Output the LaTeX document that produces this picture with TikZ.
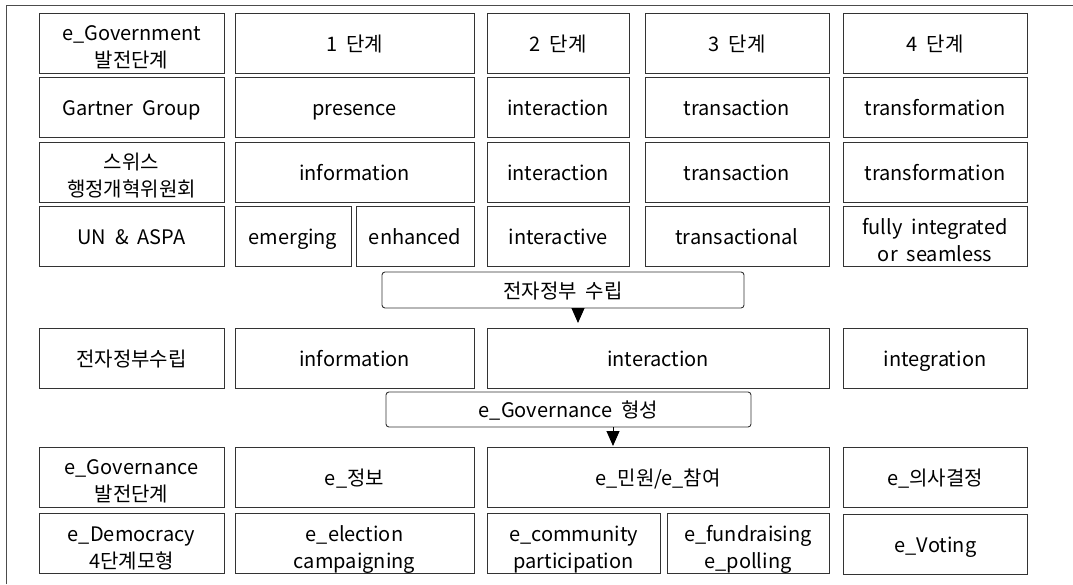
\documentclass[tikz,border=0pt]{standalone}
\usepackage{fontspec}
\setmainfont{Noto Sans CJK KR}
\usetikzlibrary{arrows.meta}

\begin{document}
\begin{tikzpicture}[x=1pt,y=-1pt]

      \useasboundingbox (0,0) rectangle (1073,584);
      \draw[black!70, line width=1pt] (6,584) -- (6,5) -- (1073,5);

      \begin{scope}[every node/.style={draw=black!80, line width=0.9pt, inner sep=0pt,
          minimum height=60pt, align=center, text height=18pt, text depth=2pt,
          font=\fontsize{20}{27}\selectfont},
          twoline/.style={text height=50pt, text depth=1pt}]
        % row 1
        \node[minimum width=185pt, twoline] (h0) at (131.5,43)  {e\_Government\\발전단계};
        \node[minimum width=239pt] (h1) at (354.5,43)  {1~ 단계};
        \node[minimum width=142pt] (h2) at (558,43)    {2~ 단계};
        \node[minimum width=184pt] (h3) at (737,43)    {3~ 단계};
        \node[minimum width=184pt] (h4) at (935,43)    {4~ 단계};
        % row 2
        \node[minimum width=185pt] (g0) at (131.5,107) {Gartner~ Group};
        \node[minimum width=239pt] (g1) at (354.5,107) {presence};
        \node[minimum width=142pt] (g2) at (558,107)   {interaction};
        \node[minimum width=184pt] (g3) at (737,107)   {transaction};
        \node[minimum width=184pt] (g4) at (935,107)   {transformation};
        % row 3
        \node[minimum width=185pt, twoline] (s0) at (131.5,172) {스위스\\행정개혁위원회};
        \node[minimum width=239pt] (s1) at (354.5,172) {information};
        \node[minimum width=142pt] (s2) at (558,172)   {interaction};
        \node[minimum width=184pt] (s3) at (737,172)   {transaction};
        \node[minimum width=184pt] (s4) at (935,172)   {transformation};
        % row 4
        \node[minimum width=185pt] (u0) at (131.5,236.5) {UN~ \&~ ASPA};
        \node[minimum width=116pt] (u1) at (293,236.5)   {emerging};
        \node[minimum width=118pt] (u5) at (415,236.5)   {enhanced};
        \node[minimum width=142pt] (u2) at (558,236.5)   {interactive};
        \node[minimum width=184pt] (u3) at (737,236.5)   {transactional};
        \node[minimum width=184pt, twoline] (u4) at (935,236.5) {fully~ integrated\\or~ seamless};
        % row 5
        \node[minimum width=185pt] (k0) at (131.5,358) {전자정부수립};
        \node[minimum width=239pt] (k1) at (354.5,358) {information};
        \node[minimum width=342pt] (k2) at (658,358)   {interaction};
        \node[minimum width=184pt] (k4) at (935,358)   {integration};
        % row 6
        \node[minimum width=185pt, twoline] (n0) at (131.5,477) {e\_Governance\\발전단계};
        \node[minimum width=239pt] (n1) at (354.5,477) {e\_정보};
        \node[minimum width=342pt] (n2) at (658,477)   {e\_민원/e\_참여};
        \node[minimum width=184pt] (n4) at (935,477)   {e\_의사결정};
        % row 7
        \node[minimum width=185pt, twoline] (d0) at (131.5,543.5) {e\_Democracy\\4단계모형};
        \node[minimum width=239pt, twoline] (d1) at (354.5,543.5) {e\_election\\campaigning};
        \node[minimum width=173pt, twoline] (d2) at (573.5,543.5) {e\_community\\participation};
        \node[minimum width=162pt, twoline] (d3) at (748,543.5)   {e\_fundraising\\e\_polling};
        \node[minimum width=184pt] (d4) at (935.5,544)   {e\_Voting};
        % stage boxes
        \node[rounded corners=3pt, minimum width=362pt, minimum height=36pt] (est) at (563,290)   {전자정부~ 수립};
        \node[rounded corners=3pt, minimum width=365pt, minimum height=35pt] (frm) at (568.5,409.5) {e\_Governance~ 형성};
      \end{scope}

      \coordinate (t1) at (578,323);
      \coordinate (t2) at (613,446);
      \begin{scope}[-{Triangle[width=13pt,length=15pt]}, line width=1pt]
        \draw (est.south -| t1) -- (t1);
        \draw (frm.south -| t2) -- (t2);
      \end{scope}

\end{tikzpicture}
\end{document}
